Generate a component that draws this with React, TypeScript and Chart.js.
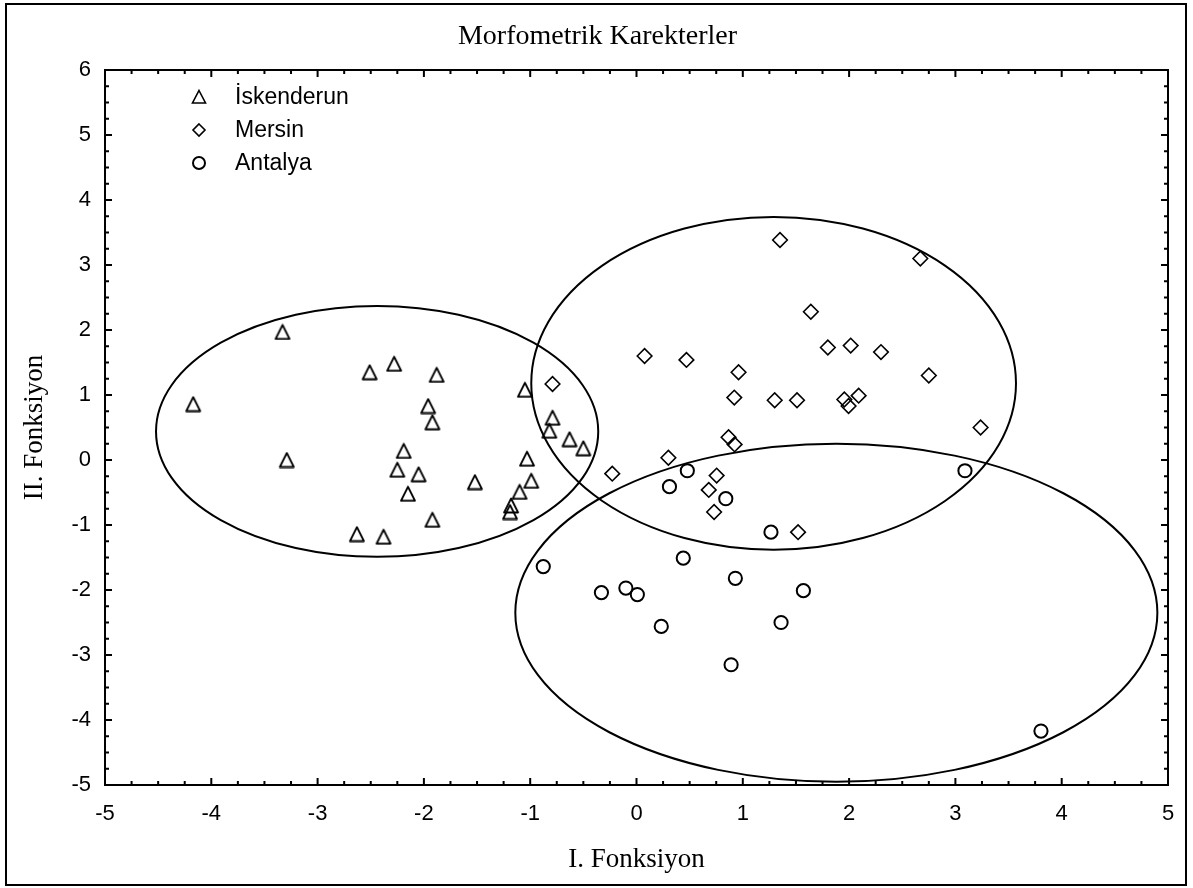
import React, { useEffect, useRef } from 'react';
import { Chart, registerables } from 'chart.js';

Chart.register(...registerables);

// İskenderun (triangles)
const iskX = [-4.17, -3.33, -3.29, -2.51, -2.28, -1.88, -1.96, -1.92, -2.19, -2.25, -2.05, -2.15, -1.92, -2.63, -2.38, -1.52, -1.05, -1.03, -0.99, -1.10, -1.18, -1.19, -0.79, -0.82, -0.63, -0.50];
const iskY = [0.86, 1.97, 0.0, 1.35, 1.48, 1.31, 0.83, 0.58, 0.14, -0.15, -0.22, -0.52, -0.92, -1.14, -1.18, -0.34, 1.08, 0.02, -0.32, -0.49, -0.70, -0.80, 0.65, 0.45, 0.32, 0.18];

// Mersin (diamonds)
const mersX = [1.35, 2.67, 1.64, 1.80, 2.015, 2.30, 2.75, 0.076, 0.47, 0.96, 0.92, 1.30, 1.51, 1.955, 1.995, 2.09, 3.237, 0.866, 0.923, 0.30, -0.228, 0.754, 0.68, 0.73, 1.52, -0.79];
const mersY = [3.385, 3.10, 2.28, 1.73, 1.76, 1.66, 1.30, 1.60, 1.54, 1.35, 0.96, 0.92, 0.92, 0.93, 0.83, 0.99, 0.50, 0.35, 0.24, 0.035, -0.21, -0.24, -0.46, -0.80, -1.11, 1.17];

// Antalya (circles)
const antX = [0.478, 0.31, 0.84, 1.265, 3.09, -0.877, -0.33, -0.10, 0.008, 0.44, 0.233, 0.93, 1.57, 1.36, 0.89, 3.805];
const antY = [-0.165, -0.41, -0.595, -1.11, -0.165, -1.64, -2.04, -1.97, -2.07, -1.51, -2.56, -1.82, -2.01, -2.50, -3.15, -4.17];

// Confidence ellipses (data units): İskenderun, Mersin, Antalya
const ellipseCX = [-2.44, 1.29, 1.88];
const ellipseCY = [0.44, 1.18, -2.35];
const ellipseRX = [2.08, 2.28, 3.02];
const ellipseRY = [1.93, 2.56, 2.60];

const seriesNames = ['İskenderun', 'Mersin', 'Antalya'];
const chartTitle = 'Morfometrik Karekterler';
const xTitle = 'I. Fonksiyon';
const yTitle = 'II. Fonksiyon';

const SANS = "'Liberation Sans', Arial, Helvetica, sans-serif";
const SERIF = "'Liberation Serif', 'Times New Roman', Times, serif";

function makeTriangle(): HTMLCanvasElement {
  const c = document.createElement('canvas');
  c.width = 18;
  c.height = 17;
  const g = c.getContext('2d')!;
  g.strokeStyle = '#000';
  g.lineWidth = 1.8;
  g.lineJoin = 'round';
  g.beginPath();
  g.moveTo(9, 1.5);
  g.lineTo(16, 15.5);
  g.lineTo(2, 15.5);
  g.closePath();
  g.stroke();
  return c;
}

const toPts = (xs: number[], ys: number[]) => xs.map((x, i) => ({ x, y: ys[i] }));

export default function App() {
  const ref = useRef<HTMLCanvasElement>(null);

  useEffect(() => {
    document.body.style.margin = '0';
    const canvas = ref.current!;
    const tri = makeTriangle();

    const decor = {
      id: 'decor',
      beforeDraw(chart: any) {
        const { ctx, width, height } = chart;
        ctx.save();
        ctx.fillStyle = '#fff';
        ctx.fillRect(0, 0, width, height);
        ctx.restore();
      },
      beforeDatasetsDraw(chart: any) {
        const { ctx, scales } = chart;
        const xs = scales.x, ys = scales.y;
        ctx.save();
        ctx.strokeStyle = '#000';
        ctx.lineWidth = 2;
        for (let i = 0; i < ellipseCX.length; i++) {
          const cx = xs.getPixelForValue(ellipseCX[i]);
          const cy = ys.getPixelForValue(ellipseCY[i]);
          const rx = Math.abs(xs.getPixelForValue(ellipseCX[i] + ellipseRX[i]) - cx);
          const ry = Math.abs(ys.getPixelForValue(ellipseCY[i] + ellipseRY[i]) - cy);
          ctx.beginPath();
          ctx.ellipse(cx, cy, rx, ry, 0, 0, Math.PI * 2);
          ctx.stroke();
        }
        ctx.restore();
      },
      afterDraw(chart: any) {
        const { ctx, chartArea: a, scales, width } = chart;
        const xs = scales.x, ys = scales.y;
        ctx.save();
        ctx.strokeStyle = '#000';
        ctx.lineWidth = 2;
        // outer frame
        ctx.strokeRect(6, 4, 1180, 881);
        // plot box
        ctx.strokeRect(a.left, a.top, a.right - a.left, a.bottom - a.top);
        // inward ticks on all four sides
        ctx.beginPath();
        for (let i = -20; i <= 20; i++) {
          const v = i / 4;
          const len = i % 4 === 0 ? 7 : 4;
          const px = xs.getPixelForValue(v);
          ctx.moveTo(px, a.bottom);
          ctx.lineTo(px, a.bottom - len);
          ctx.moveTo(px, a.top);
          ctx.lineTo(px, a.top + len);
        }
        for (let i = -20; i <= 24; i++) {
          const v = i / 4;
          const len = i % 4 === 0 ? 7 : 4;
          const py = ys.getPixelForValue(v);
          ctx.moveTo(a.left, py);
          ctx.lineTo(a.left + len, py);
          ctx.moveTo(a.right, py);
          ctx.lineTo(a.right - len, py);
        }
        ctx.stroke();

        // title
        ctx.fillStyle = '#000';
        ctx.font = `28px ${SERIF}`;
        ctx.textAlign = 'center';
        ctx.textBaseline = 'middle';
        ctx.fillText(chartTitle, width / 2 + 1, 37);

        // legend
        const lx = a.left + 94;
        const rows = [a.top + 27, a.top + 60, a.top + 93];
        ctx.lineWidth = 1.6;
        // triangle
        ctx.beginPath();
        ctx.moveTo(lx, rows[0] - 6.5);
        ctx.lineTo(lx + 6.5, rows[0] + 6);
        ctx.lineTo(lx - 6.5, rows[0] + 6);
        ctx.closePath();
        ctx.stroke();
        // diamond
        ctx.beginPath();
        ctx.moveTo(lx, rows[1] - 6);
        ctx.lineTo(lx + 6, rows[1]);
        ctx.lineTo(lx, rows[1] + 6);
        ctx.lineTo(lx - 6, rows[1]);
        ctx.closePath();
        ctx.stroke();
        // circle
        ctx.lineWidth = 2;
        ctx.beginPath();
        ctx.arc(lx, rows[2], 6, 0, Math.PI * 2);
        ctx.stroke();
        ctx.font = `23px ${SANS}`;
        ctx.textBaseline = 'middle';
        ctx.textAlign = 'left';
        for (let i = 0; i < seriesNames.length; i++) {
          ctx.fillText(seriesNames[i], lx + 36, rows[i] + 1);
        }
        ctx.restore();
      },
    };

    const chart = new Chart(canvas, {
      type: 'scatter',
      data: {
        datasets: [
          {
            label: seriesNames[0],
            data: toPts(iskX, iskY),
            pointStyle: tri as any,
            pointRadius: 8,
            borderColor: '#000',
            backgroundColor: 'rgba(0,0,0,0)',
          },
          {
            label: seriesNames[1],
            data: toPts(mersX, mersY),
            pointStyle: 'rectRot',
            pointRadius: 7.3,
            borderWidth: 1.6,
            borderColor: '#000',
            backgroundColor: 'rgba(0,0,0,0)',
          },
          {
            label: seriesNames[2],
            data: toPts(antX, antY),
            pointStyle: 'circle',
            pointRadius: 6.6,
            borderWidth: 2,
            borderColor: '#000',
            backgroundColor: 'rgba(0,0,0,0)',
          },
        ],
      },
      options: {
        responsive: false,
        animation: false,
        events: [],
        layout: { padding: { left: 0, right: 25, top: 70, bottom: 0 } },
        plugins: {
          legend: { display: false },
          tooltip: { enabled: false },
          title: { display: false },
        },
        scales: {
          x: {
            type: 'linear',
            position: 'bottom',
            min: -5,
            max: 5,
            ticks: {
              stepSize: 1,
              color: '#000',
              font: { family: SANS, size: 22 },
              padding: 16,
              maxRotation: 0,
            },
            grid: { display: false, drawTicks: false },
            border: { display: false },
            title: {
              display: true,
              text: xTitle,
              color: '#000',
              font: { family: SERIF, size: 27, lineHeight: 1.2 },
              padding: { top: 0, bottom: 12 },
            },
            afterFit: (s: any) => {
              s.height = 103;
            },
          },
          y: {
            type: 'linear',
            position: 'left',
            min: -5,
            max: 6,
            ticks: {
              stepSize: 1,
              color: '#000',
              font: { family: SANS, size: 22 },
              padding: 14,
            },
            grid: { display: false, drawTicks: false },
            border: { display: false },
            title: {
              display: true,
              text: yTitle,
              color: '#000',
              font: { family: SERIF, size: 27, lineHeight: 1.2 },
              padding: { top: 19, bottom: 0 },
            },
            afterFit: (s: any) => {
              s.width = 105;
            },
          },
        },
      },
      plugins: [decor],
    });

    return () => chart.destroy();
  }, []);

  return (
    <div style={{ position: 'absolute', left: 0, top: 0, width: 1193, height: 888 }}>
      <canvas ref={ref} width={1193} height={888} />
    </div>
  );
}
